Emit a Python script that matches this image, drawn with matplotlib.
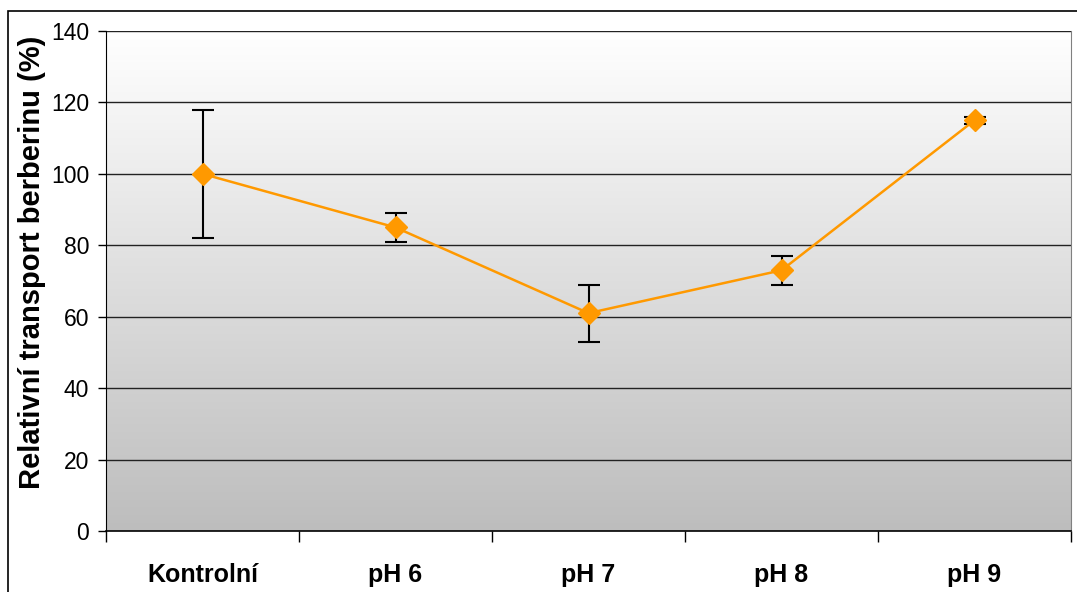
import matplotlib.pyplot as plt
import numpy as np
from matplotlib.patches import Rectangle
from matplotlib.colors import LinearSegmentedColormap

plt.rcParams['font.family'] = ['Liberation Sans', 'DejaVu Sans']

categories = ['Kontrolní', 'pH 6', 'pH 7', 'pH 8', 'pH 9']
values = [100, 85, 61, 73, 115]
errors = [18, 4, 8, 4, 1]

W, H = 1077, 592
fig = plt.figure(figsize=(W / 100, H / 100), dpi=100)
ax = fig.add_axes([106 / W, 1 - 531 / H, (1071 - 106) / W, (531 - 31) / H])

# outer chart border
fig.patches.append(Rectangle((8 / W, -0.05), 1.2, 1 - 11 / H + 0.05,
                             transform=fig.transFigure, fill=False,
                             edgecolor='black', linewidth=1.2))

x = np.arange(len(categories))
ax.set_xlim(-0.5, len(categories) - 0.5)
ax.set_ylim(0, 140)

# gradient background
grad = np.linspace(0, 1, 256).reshape(-1, 1)
bg = LinearSegmentedColormap.from_list('bg', ['#bdbdbd', '#ffffff'])
ax.imshow(grad, extent=(-0.5, len(categories) - 0.5, 0, 140), origin='lower',
          cmap=bg, aspect='auto', zorder=0)

for yv in range(20, 141, 20):
    ax.axhline(yv, color='#222222', linewidth=1.0, zorder=1)

ax.errorbar(x, values, yerr=errors, fmt='none', ecolor='black',
            elinewidth=1.5, capsize=8, capthick=1.5, zorder=2)
ax.plot(x, values, '-', color='#FF9900', linewidth=1.8, zorder=3)
ax.plot(x, values, 'D', color='#FF9900', markersize=11, zorder=4)

ax.set_yticks(range(0, 141, 20))
ax.tick_params(axis='y', labelsize=16.5, length=6, width=1, pad=6)
ax.set_xticks(x)
ax.set_xticklabels(categories, fontsize=18, fontweight='bold')
ax.tick_params(axis='x', which='major', length=0, pad=23)
ax.set_xticks(np.arange(-0.5, len(categories)), minor=True)
ax.tick_params(axis='x', which='minor', length=8, width=1, color='black')

ax.set_ylabel('Relativní transport berberinu (%)', fontsize=21, fontweight='bold')
ax.yaxis.set_label_coords(-(106 - 46) / (1071 - 106), (531 - 262) / 500)

ax.spines['left'].set_color('black')
ax.spines['bottom'].set_color('black')
ax.spines['right'].set_color('#808080')
ax.spines['top'].set_visible(False)
ax.spines['bottom'].set_linewidth(1.2)

plt.savefig('out.png', dpi=100)
